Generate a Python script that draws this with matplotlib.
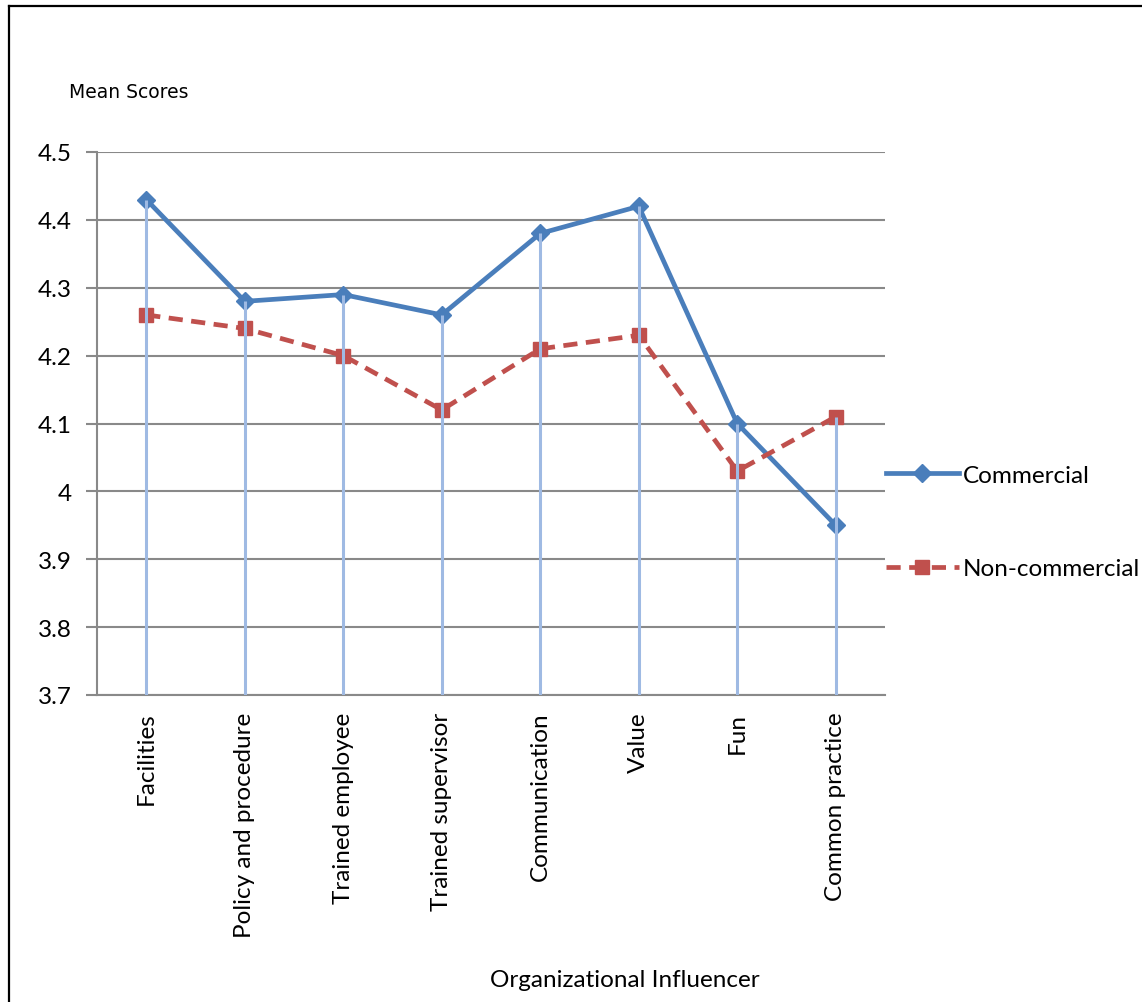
import numpy as np
import matplotlib.pyplot as plt
from matplotlib.lines import Line2D

categories = ['Facilities', 'Policy and procedure', 'Trained employee',
              'Trained supervisor', 'Communication', 'Value', 'Fun',
              'Common practice']
commercial = [4.43, 4.28, 4.29, 4.26, 4.38, 4.42, 4.10, 3.95]
non_commercial = [4.26, 4.24, 4.20, 4.12, 4.21, 4.23, 4.03, 4.11]
yticks = [3.7, 3.8, 3.9, 4.0, 4.1, 4.2, 4.3, 4.4, 4.5]
ytick_labels = ['3.7', '3.8', '3.9', '4', '4.1', '4.2', '4.3', '4.4', '4.5']

plt.rcParams['font.family'] = ['Lato', 'DejaVu Sans']

W, H = 1142, 1003
fig = plt.figure(figsize=(W / 100, H / 100), dpi=100)
ax = fig.add_axes([97 / W, 1 - 696 / H, 788 / W, 543 / H])

x = np.arange(len(categories))
blue = '#4A7EBB'
red = '#C0504D'
grid = '#898989'

ax.plot(x, commercial, color=blue, lw=3.4, marker='D', ms=9.5,
        label='Commercial', zorder=3)
ax.plot(x, non_commercial, color=red, lw=3.4, ls=(0, (3, 1.8)), marker='s',
        ms=10, label='Non-commercial', zorder=3)

# drop lines from the higher point of each category down to the axis
tops = np.maximum(commercial, non_commercial)
ax.vlines(x, 3.7, tops, color='#9FBAE3', lw=2.2, zorder=4)

ax.set_xlim(-0.5, len(categories) - 0.5)
ax.set_ylim(3.7, 4.5)
ax.set_yticks(yticks)
ax.set_yticklabels(ytick_labels, fontsize=17.5)
ax.set_xticks(x)
ax.set_xticklabels(categories, rotation=90, fontsize=17.5, va='top')
ax.tick_params(axis='x', length=0, pad=12)
ax.tick_params(axis='y', length=8, width=1.5, color=grid, pad=10)
ax.yaxis.grid(True, color=grid, lw=1.5)
ax.set_axisbelow(True)
for side in ['top', 'right']:
    ax.spines[side].set_visible(False)
for side in ['left', 'bottom']:
    ax.spines[side].set_color(grid)
    ax.spines[side].set_linewidth(1.5)

fig.text(69 / W, 1 - 92 / H, 'Mean Scores', fontsize=13.5,
         family=['Liberation Sans Narrow', 'DejaVu Sans'], va='center')
fig.text(625 / W, 1 - 981 / H, 'Organizational Influencer', fontsize=17.5,
         ha='center', va='center')

fig.legend(loc='center left', bbox_to_anchor=(886 / W, 1 - 523 / H),
           frameon=False, fontsize=17.5, labelspacing=3.0, handlelength=3.0,
           handletextpad=0.15, borderpad=0, borderaxespad=0)

# outer frame of the chart area
fig.add_artist(Line2D([9 / W, 1], [1 - 7 / H, 1 - 7 / H], color='black', lw=1.6))
fig.add_artist(Line2D([9 / W, 9 / W], [0, 1 - 7 / H], color='black', lw=1.6))

fig.savefig('out.png', dpi=100)
